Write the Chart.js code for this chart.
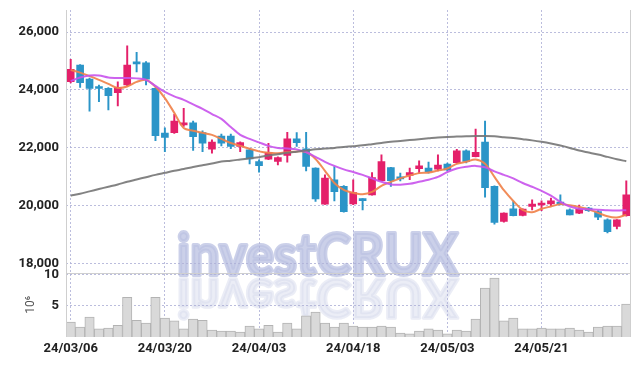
<!DOCTYPE html>
<html>
<head>
<meta charset="utf-8">
<script src="https://cdn.jsdelivr.net/npm/chart.js@4.4.1/dist/chart.umd.min.js"></script>
<style>
  html, body { margin: 0; padding: 0; background: #fff; }
</style>
</head>
<body>
<canvas id="chart" width="639" height="366"></canvas>
<script>
// ── Data ─────────────────────────────────────────────────────────────────────

const DATES = [
  '24/03/06', '24/03/07', '24/03/08', '24/03/11', '24/03/12', '24/03/13', '24/03/14', '24/03/15', '24/03/18', '24/03/19',
  '24/03/20', '24/03/21', '24/03/22', '24/03/25', '24/03/26', '24/03/27', '24/03/28', '24/03/29', '24/04/01', '24/04/02',
  '24/04/03', '24/04/04', '24/04/05', '24/04/08', '24/04/09', '24/04/11', '24/04/12', '24/04/15', '24/04/16', '24/04/17',
  '24/04/18', '24/04/19', '24/04/22', '24/04/23', '24/04/24', '24/04/25', '24/04/26', '24/04/29', '24/04/30', '24/05/02',
  '24/05/03', '24/05/07', '24/05/08', '24/05/09', '24/05/10', '24/05/13', '24/05/14', '24/05/16', '24/05/17', '24/05/20',
  '24/05/21', '24/05/22', '24/05/23', '24/05/24', '24/05/27', '24/05/28', '24/05/29', '24/05/30', '24/05/31', '24/06/03',
];

const OPEN = [
  24290, 24860, 24380, 24100, 24060, 23910, 24170, 24940, 24940, 24060,
  22510, 22530, 22790, 22870, 22530, 21960, 22410, 22410, 22050, 21930,
  21530, 21610, 21530, 21740, 22310, 21970, 21300, 20060, 20900, 20670,
  20070, 20220, 20380, 20870, 21320, 20980, 21050, 21280, 21300, 21270,
  21440, 21490, 21900, 21700, 22200, 20670, 19460, 19900, 19670, 19980,
  20030, 20070, 20110, 19860, 19750, 19920, 19800, 19520, 19290, 19660,
];
const HIGH = [
  25060, 24880, 24410, 24170, 24080, 24280, 25520, 25300, 24980, 24070,
  22690, 23160, 23370, 22930, 22590, 22280, 22480, 22480, 22210, 21990,
  21590, 22160, 21690, 22540, 22530, 22540, 21310, 21070, 21360, 20700,
  20900, 20250, 21150, 21760, 21330, 21130, 21300, 21550, 21510, 21760,
  21480, 21950, 21930, 22650, 22930, 20690, 19760, 20150, 19900, 20210,
  20170, 20270, 20380, 19900, 20030, 19950, 19840, 19550, 19530, 20860,
];
const LOW = [
  24240, 24090, 23270, 23600, 23310, 23450, 24140, 24620, 24170, 22250,
  21870, 22500, 22740, 21910, 21870, 21820, 22070, 21970, 21870, 21450,
  21160, 21590, 21410, 21510, 22050, 21210, 20150, 20050, 20170, 19780,
  20040, 19860, 20370, 20860, 20670, 20860, 20900, 21130, 21130, 21210,
  21210, 21470, 21480, 21690, 20300, 19370, 19440, 19650, 19650, 19860,
  19830, 20000, 20030, 19690, 19730, 19810, 19520, 19070, 19200, 19640,
];
const CLOSE = [
  24710, 24250, 24050, 24050, 23800, 24090, 24860, 24900, 24370, 22420,
  22360, 22930, 22870, 22390, 22160, 22200, 22160, 22050, 22180, 21620,
  21390, 21840, 21670, 22310, 22180, 21360, 20240, 20960, 20490, 19800,
  20460, 20180, 20980, 21530, 20870, 20930, 21150, 21380, 21180, 21410,
  21240, 21900, 21530, 21850, 20630, 19430, 19750, 19660, 19890, 20060,
  20090, 20170, 20060, 19690, 19890, 19830, 19610, 19110, 19520, 20380,
];

// volume, millions of shares
const VOLUME = [
  2.4, 1.6, 3.2, 1.3, 1.45, 1.9, 6.4, 2.7, 2.25, 6.4,
  3.05, 2.6, 1.3, 2.9, 2.7, 1.1, 0.95, 0.95, 0.8, 1.75,
  1.3, 1.9, 0.8, 2.25, 1.3, 3.4, 4.0, 2.25, 1.6, 2.25,
  1.75, 1.6, 1.6, 1.75, 1.6, 0.65, 0.5, 0.95, 1.3, 1.1,
  0.5, 1.1, 0.95, 2.9, 7.9, 9.5, 2.6, 3.05, 1.3, 1.3,
  1.45, 1.3, 1.3, 1.45, 1.1, 0.8, 1.6, 1.75, 1.75, 5.3,
];

const MA_SHORT = [
  24690, 24600, 24480, 24350, 24210, 24070, 24120, 24280, 24350, 24110,
  23720, 23210, 22690, 22590, 22520, 22450, 22310, 22170, 22070, 21970,
  21880, 21830, 21820, 21850, 21880, 21860, 21620, 21210, 20790, 20550,
  20450, 20400, 20480, 20690, 20830, 20950, 21050, 21130, 21150, 21220,
  21290, 21450, 21520, 21600, 21450, 21000, 20540, 20170, 19860, 19780,
  19900, 19980, 20060, 20020, 19960, 19880, 19760, 19640, 19600, 19690,
];
const MA_MID = [
  24310, 24430, 24500, 24500, 24430, 24410, 24410, 24400, 24350, 24140,
  23930, 23780, 23660, 23500, 23350, 23170, 23000, 22720, 22450, 22310,
  22190, 22070, 22000, 21980, 21950, 21860, 21690, 21520, 21380, 21260,
  21170, 21070, 20950, 20830, 20740, 20730, 20760, 20830, 20900, 21000,
  21170, 21290, 21350, 21380, 21330, 21190, 21070, 20950, 20790, 20660,
  20520, 20350, 20140, 19980, 19900, 19880, 19870, 19850, 19840, 19850,
];
const MA_LONG = [
  20350, 20420, 20500, 20580, 20660, 20740, 20830, 20910, 20990, 21070,
  21140, 21210, 21270, 21340, 21400, 21460, 21530, 21560, 21600, 21640,
  21680, 21740, 21780, 21830, 21870, 21910, 21950, 21980, 22000, 22030,
  22060, 22090, 22130, 22170, 22210, 22240, 22270, 22300, 22330, 22360,
  22380, 22390, 22400, 22410, 22410, 22400, 22370, 22340, 22300, 22260,
  22210, 22150, 22080, 22000, 21910, 21840, 21770, 21690, 21610, 21540,
];

const PRICE_TICKS = [18000, 20000, 22000, 24000, 26000];
const VOLUME_TICKS = [5, 10];
const WATERMARK = 'investCRUX';

// ── Styling ──────────────────────────────────────────────────────────────────

const FONT_FAMILY = "Roboto, 'DejaVu Sans', sans-serif";
const TICK_FONT = { family: FONT_FAMILY, size: 13, weight: 'bold' };
const UP_COLOR = '#e4206a';
const DOWN_COLOR = '#2b95c8';
const GRID_COLOR = 'rgba(175,178,215,0.85)';

const candleColors = OPEN.map((o, i) => (CLOSE[i] >= o ? UP_COLOR : DOWN_COLOR));

// heavy watermark with a faded mirror image, drawn under everything else
const watermarkPlugin = {
  id: 'watermark',
  beforeDraw(chart) {
    const { ctx } = chart;
    const paint = (fill) => {
      ctx.fillStyle = fill;
      ctx.strokeStyle = fill;
      ctx.fillText(WATERMARK, 0, 0);
      ctx.strokeText(WATERMARK, 0, 0);
    };
    ctx.save();
    ctx.font = `bold 58px Lato, 'DejaVu Sans', sans-serif`;
    ctx.lineWidth = 4;
    ctx.lineJoin = 'round';
    const w = ctx.measureText(WATERMARK).width;
    ctx.translate(chart.width / 2 - 2, 275);
    ctx.scale(281 / w, 1);
    ctx.textAlign = 'center';
    ctx.textBaseline = 'alphabetic';
    paint('rgba(190,196,228,0.8)');
    ctx.translate(0, 4);
    ctx.scale(1, -0.92);
    paint('rgba(215,219,238,0.5)');
    ctx.restore();
  },
};

// plot frame: left/right edges and the line between price and volume panes
const framePlugin = {
  id: 'frame',
  afterDraw(chart) {
    const { ctx, chartArea: a, scales } = chart;
    const yb = Math.round(scales.y.bottom) + 0.5;
    ctx.save();
    ctx.strokeStyle = '#cfcfcf';
    ctx.lineWidth = 1;
    ctx.beginPath();
    ctx.moveTo(Math.round(a.left) + 0.5, a.top);
    ctx.lineTo(Math.round(a.left) + 0.5, a.bottom);
    ctx.moveTo(Math.round(a.right) - 0.5, a.top);
    ctx.lineTo(Math.round(a.right) - 0.5, a.bottom);
    ctx.moveTo(a.left, yb);
    ctx.lineTo(a.right, yb);
    ctx.stroke();
    ctx.restore();
  },
};

// fixed axis boxes, no extra label overflow padding
function fixBox(size) {
  return (s) => {
    if (s.isHorizontal()) s.height = size; else s.width = size;
    s.paddingTop = s.paddingBottom = s.paddingLeft = s.paddingRight = 0;
  };
}

function maLine(data, color) {
  return {
    type: 'line',
    data,
    yAxisID: 'y',
    borderColor: color,
    borderWidth: 2,
    pointRadius: 0,
    tension: 0.3,
    order: 0,
  };
}

new Chart(document.getElementById('chart'), {
  data: {
    labels: DATES,
    datasets: [
      maLine(MA_LONG, 'rgba(118,118,118,0.9)'),
      maLine(MA_MID, 'rgba(200,82,236,0.9)'),
      maLine(MA_SHORT, 'rgba(240,130,75,0.92)'),
      {
        // candle bodies
        type: 'bar',
        data: OPEN.map((o, i) => [o, CLOSE[i]]),
        yAxisID: 'y',
        backgroundColor: candleColors,
        barThickness: 7,
        minBarLength: 2,
        grouped: false,
        order: 1,
      },
      {
        // wicks
        type: 'bar',
        data: LOW.map((l, i) => [l, HIGH[i]]),
        yAxisID: 'y',
        backgroundColor: candleColors,
        barThickness: 1.3,
        grouped: false,
        order: 2,
      },
      {
        type: 'bar',
        data: VOLUME,
        yAxisID: 'yv',
        backgroundColor: '#d9d9d9',
        borderColor: '#b3b3b3',
        borderWidth: 1,
        barPercentage: 1,
        categoryPercentage: 1,
        grouped: false,
        order: 3,
      },
    ],
  },
  options: {
    responsive: false,
    animation: false,
    layout: { padding: { top: 10, right: 8, left: 0, bottom: 0 } },
    plugins: { legend: { display: false }, tooltip: { enabled: false } },
    scales: {
      x: {
        type: 'category',
        offset: true,
        grid: { color: GRID_COLOR, drawTicks: false, offset: false },
        border: { display: false, dash: [2, 2] },
        ticks: {
          autoSkip: false,
          maxRotation: 0,
          padding: 4,
          color: '#222',
          font: TICK_FONT,
          callback: function (v, i) { return i % 10 === 0 ? this.getLabelForValue(v) : null; },
        },
        afterFit: fixBox(29),
      },
      yv: {
        type: 'linear',
        position: 'left',
        stack: 'panes',
        stackWeight: 1,
        min: 0,
        max: 10.4,
        afterBuildTicks: (s) => { s.ticks = VOLUME_TICKS.map((v) => ({ value: v })); },
        afterFit: fixBox(66),
        grid: { color: GRID_COLOR, drawTicks: false },
        border: { display: false, dash: [2, 2] },
        ticks: { padding: 7, color: '#222', font: TICK_FONT },
        title: {
          display: true,
          text: '10⁶',
          color: '#555',
          font: { family: FONT_FAMILY, size: 12 },
          padding: { top: 24, bottom: 0 },
        },
      },
      y: {
        type: 'linear',
        position: 'left',
        stack: 'panes',
        stackWeight: 4.07,
        min: 17700,
        max: 26760,
        afterBuildTicks: (s) => { s.ticks = PRICE_TICKS.map((v) => ({ value: v })); },
        afterFit: fixBox(66),
        grid: { color: GRID_COLOR, drawTicks: false },
        border: { display: false, dash: [2, 2] },
        ticks: {
          padding: 7,
          color: '#222',
          font: TICK_FONT,
          callback: (v) => v.toLocaleString('en-US'),
        },
      },
    },
  },
  plugins: [watermarkPlugin, framePlugin],
});
</script>
</body>
</html>
